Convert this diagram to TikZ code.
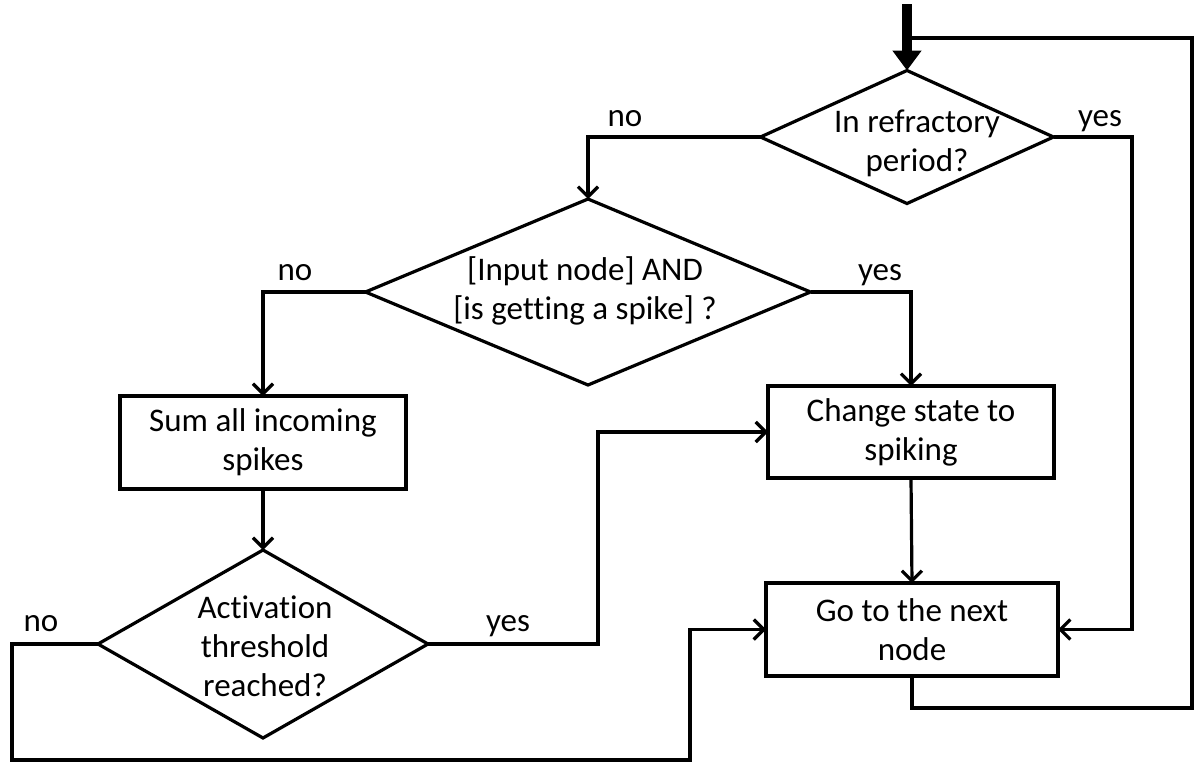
\documentclass[tikz,border=0pt]{standalone}
\usepackage{fontspec}
\setmainfont[Ligatures=NoCommon]{Carlito}
\usetikzlibrary{shapes.geometric,arrows.meta}
\begin{document}
\begin{tikzpicture}[x=1pt,y=-1pt,
  line width=3.2pt,
  txt/.style={font=\fontsize{33}{39}\selectfont, align=center, inner sep=0pt},
  dia/.style={diamond, draw, inner sep=0pt, outer sep=0pt},
  box/.style={rectangle, draw, inner sep=0pt, outer sep=0pt, font=\fontsize{33}{39}\selectfont, align=center},
  arr/.style={-{Straight Barb[length=10pt,width=20pt]}},
  bigarr/.style={line width=10pt,-{Triangle[length=20pt,width=28pt]}},
  lbl/.style={font=\fontsize{33}{39}\selectfont, inner sep=0pt, anchor=base}
]
\useasboundingbox (0,0) rectangle (1195,763);

% shapes
\node[dia, minimum width=293, minimum height=133] (d1) at (907,137) {};
\node[txt] (t1) at (917,143) {In refractory\\period?};
\node[dia, minimum width=445, minimum height=186] (d2) at (588,292) {};
\node[txt] (t2) at (585,291) {[Input node] AND\\[0pt][is getting a spike] ?};
\node[dia, minimum width=330, minimum height=188] (d3) at (263,644) {};
\node[txt] (t3) at (265,646) {Activation\\threshold\\reached?};

\node[box, minimum width=286, minimum height=93] (sum) at (263,442.5) {Sum all incoming\\spikes};
\node[box, minimum width=286, minimum height=92] (chg) at (911,432) {Change state to\\spiking};
\node[box, minimum width=292, minimum height=93] (go) at (912,629.5) {Go to the next\\node};

% labels
\node[lbl] (l1) at (625,126) {no};
\node[lbl] (l2) at (1100,126) {yes};
\node[lbl] (l3) at (295,280) {no};
\node[lbl] (l4) at (880,280) {yes};
\node[lbl] (l5) at (41,631) {no};
\node[lbl] (l6) at (508,631) {yes};

% coordinates
\coordinate (start) at (907,4);
\coordinate (join) at (907,38);

% connectors
\draw[bigarr] (start) -- (d1.north);
\draw (go.south) -- ++(0,32) -| (1192,38) -- (join);
\draw[arr] (d1.west) -| (d2.north);
\draw[arr] (d1.east) -- (1132,137) |- (go.east);
\draw[arr] (d2.west) -| (sum.north);
\draw[arr] (d2.east) -| (chg.north);
\draw[arr] (sum.south) -- (d3.north);
\draw[arr] (chg.south) -- (go.north);
\draw[arr] (d3.east) -- (598,644) |- (chg.west);
\draw[arr] (d3.west) -- (12,644) |- (690,760) |- (go.west);
\end{tikzpicture}
\end{document}
